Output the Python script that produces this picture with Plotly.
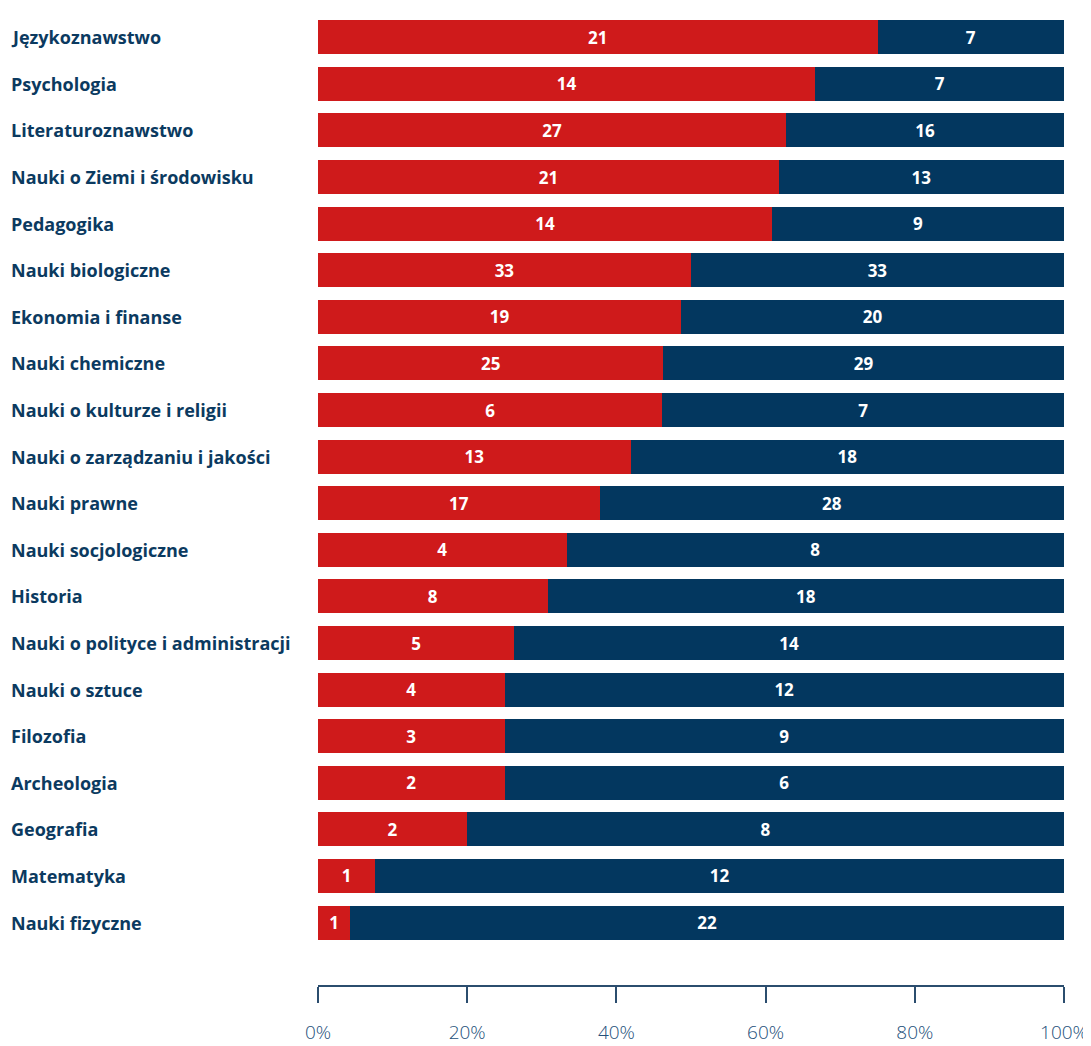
import plotly.graph_objects as go

categories = ["Językoznawstwo", "Psychologia", "Literaturoznawstwo", "Nauki o Ziemi i środowisku",
              "Pedagogika", "Nauki biologiczne", "Ekonomia i finanse", "Nauki chemiczne",
              "Nauki o kulturze i religii", "Nauki o zarządzaniu i jakości", "Nauki prawne",
              "Nauki socjologiczne", "Historia", "Nauki o polityce i administracji", "Nauki o sztuce",
              "Filozofia", "Archeologia", "Geografia", "Matematyka", "Nauki fizyczne"]
red_values = [21, 14, 27, 21, 14, 33, 19, 25, 6, 13, 17, 4, 8, 5, 4, 3, 2, 2, 1, 1]
blue_values = [7, 7, 16, 13, 9, 33, 20, 29, 7, 18, 28, 8, 18, 14, 12, 9, 6, 8, 12, 22]
tick_values = [0, 20, 40, 60, 80, 100]
tick_labels = ["0%", "20%", "40%", "60%", "80%", "100%"]

RED = "#CF1A1B"
BLUE = "#03375F"
LABEL = "#0B3A60"
OFF = 8  # default page body margin
W, H = 1091 - OFF, 1046 - OFF
L, R, T, B = 318 - OFF, 27, 14 - OFF, 61

fig = go.Figure()
for vals, col in [(red_values, RED), (blue_values, BLUE)]:
    fig.add_trace(go.Bar(
        y=categories, x=vals, orientation="h", marker=dict(color=col, line=dict(width=0)),
        text=[str(v) for v in vals], textposition="inside", insidetextanchor="middle",
        textfont=dict(family="Open Sans", size=17, color="white", weight="bold"),
        constraintext="none", hoverinfo="skip", showlegend=False,
    ))

n = len(categories)
fig.update_layout(
    width=W, height=H, barmode="stack", barnorm="percent", bargap=0.27,
    margin=dict(l=L, r=R, t=T, b=B, pad=0),
    paper_bgcolor="white", plot_bgcolor="white",
    xaxis=dict(range=[0, 100], tickvals=tick_values, ticktext=tick_labels, automargin=False,
               showgrid=False, zeroline=False, showline=True, linecolor="#2B4D6E", linewidth=1.5,
               ticks="outside", ticklen=16, tickwidth=1.5, tickcolor="#2B4D6E",
               ticklabelstandoff=13,
               tickfont=dict(family="Open Sans", size=19, color="#24507A", weight=300)),
    yaxis=dict(type="category", categoryorder="array", categoryarray=categories,
               range=[n + 0.34, -0.5], showticklabels=False, showgrid=False, automargin=False,
               zeroline=False, showline=False, ticks=""),
)

for c in categories:
    fig.add_annotation(x=(9 - 318) / (W - L - R), xref="paper", y=c, yref="y",
                       text=c, showarrow=False, xanchor="left", yanchor="middle",
                       font=dict(family="Open Sans", size=18, color=LABEL, weight="bold"))

fig.write_html("out.html")
